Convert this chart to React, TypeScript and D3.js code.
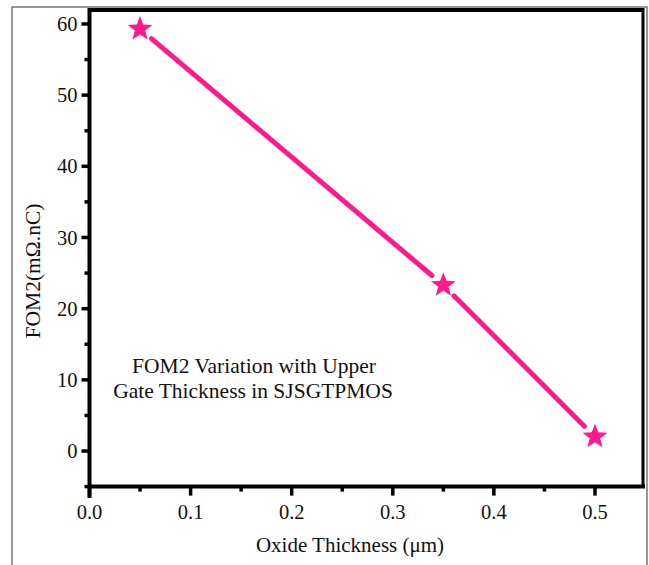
import React from 'react'
import * as d3 from 'd3'

const thickness = [0.05, 0.35, 0.5]
const fom2 = [59.3, 23.3, 2.0]
const xTicks = [0, 0.1, 0.2, 0.3, 0.4, 0.5]
const xMinor = [0.05, 0.15, 0.25, 0.35, 0.45]
const yTicks = [0, 10, 20, 30, 40, 50, 60]
const yMinor = [-5, 5, 15, 25, 35, 45, 55]

const W = 649
const H = 565
const PINK = '#ff1a8c'
const FONT = 'Liberation Serif, Times New Roman, DejaVu Serif, serif'

const starPath = (cx: number, cy: number, R: number) => {
  const r = R * 0.42
  const pts: string[] = []
  for (let i = 0; i < 10; i++) {
    const a = -Math.PI / 2 + (i * Math.PI) / 5
    const rr = i % 2 === 0 ? R : r
    pts.push(`${cx + rr * Math.cos(a)},${cy + rr * Math.sin(a)}`)
  }
  return 'M' + pts.join('L') + 'Z'
}

export default function App() {
  const x = d3.scaleLinear().domain([0, 0.5475]).range([89.5, 643])
  const y = d3.scaleLinear().domain([-6.6, 61.96]).range([498, 10])
  const axisY = y(-5)
  const top = y(61.96)
  const pts = thickness.map((t, i) => [x(t), y(fom2[i])])

  // segments with a gap around each marker
  const gap = 15
  const segs = pts.slice(1).map((p, i) => {
    const a = pts[i]
    const dx = p[0] - a[0]
    const dy = p[1] - a[1]
    const len = Math.hypot(dx, dy)
    const ux = dx / len
    const uy = dy / len
    return [a[0] + ux * gap, a[1] + uy * gap, p[0] - ux * gap, p[1] - uy * gap]
  })

  const txt = { fontFamily: FONT, fill: '#111' }

  return (
    <svg width={W} height={H} style={{ position: 'absolute', left: 0, top: 0, background: '#fff' }}>
      <rect x={12} y={7} width={635} height={H} fill="none" stroke="#555" strokeWidth={1.2} />

      {/* frame */}
      <line x1={x(0)} x2={643} y1={top} y2={top} stroke="#000" strokeWidth={4} />
      <line x1={643} x2={643} y1={top - 2} y2={axisY} stroke="#000" strokeWidth={3} />
      <line x1={x(0)} x2={645} y1={axisY} y2={axisY} stroke="#000" strokeWidth={4} />
      <line x1={x(0)} x2={x(0)} y1={top - 2} y2={y(-6.6)} stroke="#000" strokeWidth={4} />

      {/* y ticks */}
      {yTicks.map(v => (
        <g key={v}>
          <line x1={x(0) - 8} x2={x(0)} y1={y(v)} y2={y(v)} stroke="#000" strokeWidth={3.5} />
          <text x={x(0) - 12} y={y(v)} dy="0.35em" textAnchor="end" style={{ ...txt, fontSize: 20.5 }}>
            {v}
          </text>
        </g>
      ))}
      {yMinor.map(v => (
        <line key={v} x1={x(0) - 5} x2={x(0)} y1={y(v)} y2={y(v)} stroke="#000" strokeWidth={3.5} />
      ))}

      {/* x ticks */}
      {xTicks.map(v => (
        <g key={v}>
          <line x1={x(v)} x2={x(v)} y1={axisY} y2={axisY + 9} stroke="#000" strokeWidth={3.5} />
          <text x={x(v)} y={axisY + 32} textAnchor="middle" style={{ ...txt, fontSize: 20.5 }}>
            {d3.format('.1f')(v)}
          </text>
        </g>
      ))}
      {xMinor.map(v => (
        <line key={v} x1={x(v)} x2={x(v)} y1={axisY} y2={axisY + 5} stroke="#000" strokeWidth={3.5} />
      ))}

      {/* axis titles */}
      <text x={350} y={552} textAnchor="middle" style={{ ...txt, fontSize: 21 }}>
        Oxide Thickness (μm)
      </text>
      <text
        transform="translate(40, 271) rotate(-90)"
        textAnchor="middle"
        style={{ ...txt, fontSize: 21.5 }}
      >
        FOM2(mΩ.nC)
      </text>

      {/* annotation */}
      <text textAnchor="middle" style={{ ...txt, fontSize: 21.5 }}>
        <tspan x={254} y={373}>FOM2 Variation with Upper</tspan>
        <tspan x={253} y={398}>Gate Thickness in SJSGTPMOS</tspan>
      </text>

      {/* data */}
      {segs.map((s, i) => (
        <line key={i} x1={s[0]} y1={s[1]} x2={s[2]} y2={s[3]} stroke={PINK} strokeWidth={5} strokeLinecap="round" />
      ))}
      {pts.map((p, i) => (
        <path key={i} d={starPath(p[0], p[1], 13)} fill={PINK} />
      ))}
    </svg>
  )
}
